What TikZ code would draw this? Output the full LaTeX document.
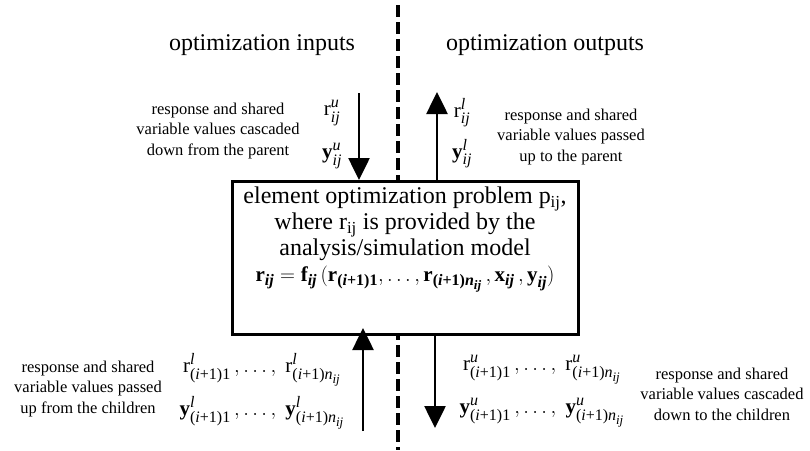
\documentclass[tikz,border=0pt]{standalone}
\usepackage{amsmath}
\usepackage{fontspec}
\setmainfont{Liberation Serif}
\usetikzlibrary{arrows.meta}
\DeclareMathSizes{21}{21}{16}{13}
\tikzset{
  flow/.style={line width=2.6pt,-{Triangle[width=21pt,length=22pt]}},
  divider/.style={line width=3.5pt,dash pattern=on 12pt off 5pt},
  head/.style={font=\fontsize{24}{28}\selectfont},
  note/.style={font=\fontsize{16.5}{20.5}\selectfont,align=center},
  sym/.style={font=\fontsize{21}{24}\selectfont,inner sep=0pt},
  mainbox/.style={draw,line width=3pt,fill=white,minimum width=346pt,minimum height=153pt},
  boxtext/.style={align=center,inner sep=0pt,font=\fontsize{24}{26}\selectfont}
}
\newcommand{\myr}{\text{r}}
\newcommand{\myy}{\text{\bfseries y}}
\newcommand{\myu}{\text{\itshape u}}
\newcommand{\myl}{\text{\itshape l}}
\newcommand{\myij}{\text{\itshape ij}}
\newcommand{\myip}{\text{(\itshape i\upshape +1)1}}
\newcommand{\myin}{\text{(\itshape i\upshape +1)\itshape n}_{\text{\itshape ij}}}
\begin{document}
\begin{tikzpicture}[x=1pt,y=-1pt]
\useasboundingbox (0,0) rectangle (810,450);
\coordinate (dtop) at (398,5);
\coordinate (dbot) at (398,450);
\draw[divider] (dtop) -- (dbot);
\node[head] (inl) at (262,45) {optimization inputs};
\node[head] (outl) at (545,45) {optimization outputs};
\node[mainbox] (box) at (405,258) {};
\node[boxtext,anchor=north] (btext) at ([yshift=-7pt]box.north) {element optimization problem p$_{\text{ij}}$,\\
where r$_{\text{ij}}$ is provided by the\\
analysis/simulation model\\
{\fontsize{21}{24}\selectfont\bfseries $\text{r}_{\text{\itshape ij}}=\text{f}_{\text{\itshape ij}}\,(\text{r}_{\text{(\itshape i\upshape+1)1}},\ldots,\text{r}_{\text{(\itshape i\upshape+1)\itshape n}_{\text{\itshape ij}}}\,,\text{x}_{\text{\itshape ij}}\,,\text{y}_{\text{\itshape ij}})$}};
% top left
\coordinate (tls) at (359,93);
\draw[flow] (tls) -- (tls |- box.north);
\node[sym] (rtl) at (332,113) {$\myr^{\myu}_{\myij}$};
\node[sym] (ytl) at (332,156) {$\myy^{\myu}_{\myij}$};
\node[note] (ntl) at (218,131) {response and shared\\variable values cascaded\\down from the parent};
% top right
\coordinate (tre) at (437,92);
\draw[flow] (tre |- box.north) -- (tre);
\node[sym] (rtr) at (462,113) {$\myr^{\myl}_{\myij}$};
\node[sym] (ytr) at (462,154) {$\myy^{\myl}_{\myij}$};
\node[note] (ntr) at (571,137) {response and shared\\variable values passed\\up to the parent};
% bottom left
\coordinate (bls) at (363,431);
\draw[flow] (bls) -- ([yshift=8pt]bls |- box.south);
\node[sym] (rbl) at (262,370) {$\myr^{\myl}_{\myip}\,,\ldots,\;\myr^{\myl}_{\myin}$};
\node[sym] (ybl) at (262,413) {$\myy^{\myl}_{\myip}\,,\ldots,\;\myy^{\myl}_{\myin}$};
\node[note] (nbl) at (88,389) {response and shared\\variable values passed\\up from the children};
% bottom right
\coordinate (bre) at (435,428);
\draw[flow] (bre |- box.south) -- (bre);
\node[sym] (rbr) at (542,370) {$\myr^{\myu}_{\myip}\,,\ldots,\;\myr^{\myu}_{\myin}$};
\node[sym] (ybr) at (542,413) {$\myy^{\myu}_{\myip}\,,\ldots,\;\myy^{\myu}_{\myin}$};
\node[note] (nbr) at (722,394) {response and shared\\variable values cascaded\\down to the children};
\end{tikzpicture}
\end{document}
